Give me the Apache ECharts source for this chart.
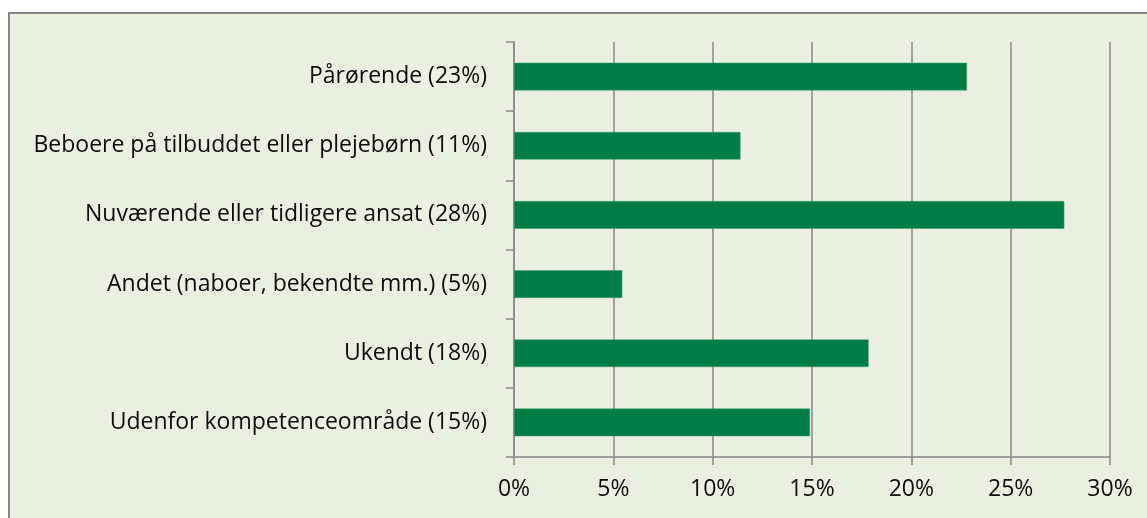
<!DOCTYPE html>
<html>
<head>
<meta charset="utf-8">
<script src="https://cdn.jsdelivr.net/npm/echarts@6/dist/echarts.min.js"></script>
<style>
  html, body { margin: 0; padding: 0; background: #ffffff; }
  #chart { width: 1147px; height: 518px; }
</style>
</head>
<body>
<div id="chart"></div>
<script>
// kategorier (oppefra og ned)
const categories = [
  "Pårørende (23%)",
  "Beboere på tilbuddet eller plejebørn (11%)",
  "Nuværende eller tidligere ansat (28%)",
  "Andet (naboer, bekendte mm.) (5%)",
  "Ukendt (18%)",
  "Udenfor kompetenceområde (15%)"
];
// andel i procent
const shares = [22.8, 11.4, 27.7, 5.45, 17.85, 14.9];
// x-aksens ticks
const xTicks = [0, 5, 10, 15, 20, 25, 30];

const FONT = "Open Sans";
const myChart = echarts.init(document.getElementById("chart"));

myChart.setOption({
  animation: false,
  backgroundColor: "#ffffff",
  textStyle: { fontFamily: FONT },
  graphic: [
    {
      type: "rect",
      z: -10,
      shape: { x: 9, y: 13, width: 1300, height: 700 },
      style: { fill: "#EBEFDF", stroke: "#878787", lineWidth: 2 }
    }
  ],
  grid: { left: 514, right: 37, top: 42, bottom: 61 },
  xAxis: {
    type: "value",
    min: xTicks[0],
    max: xTicks[xTicks.length - 1],
    interval: 5,
    axisLine: { show: true, lineStyle: { color: "#888888", width: 1.5 } },
    axisTick: { show: true, length: 8, lineStyle: { color: "#888888", width: 1.5 } },
    splitLine: { show: true, lineStyle: { color: "#888888", width: 1.5 } },
    axisLabel: {
      color: "#0d0d0d",
      fontSize: 23,
      fontFamily: FONT,
      margin: 21,
      formatter: v => v + "%"
    }
  },
  yAxis: {
    type: "category",
    inverse: true,
    data: categories,
    axisLine: { show: true, lineStyle: { color: "#888888", width: 1.5 } },
    axisTick: { show: true, length: 8, lineStyle: { color: "#888888", width: 1.5 } },
    axisLabel: {
      color: "#0d0d0d",
      fontSize: 23,
      fontFamily: FONT,
      margin: 27
    }
  },
  series: [
    {
      type: "bar",
      data: shares,
      barWidth: "40%",
      itemStyle: { color: "#007D46", borderColor: "#3DA06E", borderWidth: 0.5 }
    }
  ]
});
</script>
</body>
</html>
